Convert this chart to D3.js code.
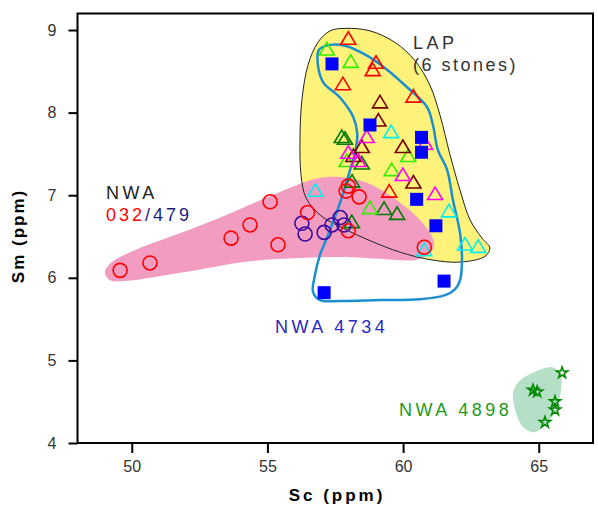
<!DOCTYPE html>
<html>
<head>
<meta charset="utf-8">
<script src="https://cdnjs.cloudflare.com/ajax/libs/d3/7.8.5/d3.min.js"></script>
<style>
  body { margin: 0; background: #fff; }
  text { font-family: "Liberation Sans", Arial, sans-serif; }
</style>
</head>
<body>
<div id="chart"></div>
<script>
// axis ticks
const xTicks = [50, 55, 60, 65]
const yTicks = [4, 5, 6, 7, 8, 9]

// field outlines, [Sc, Sm]
const lapField = [[57.86,9.02],[58.78,8.99],[59.70,8.85],[60.44,8.63],[60.99,8.33],[61.36,7.97],[61.73,7.49],[62.10,7.06],[62.47,6.70],[62.91,6.48],[63.20,6.36],[63.02,6.26],[62.10,6.19],[60.99,6.22],[59.89,6.31],[58.78,6.45],[57.79,6.60],[56.94,6.76],[56.42,6.97],[56.24,7.24],[56.20,7.67],[56.27,8.15],[56.50,8.58],[56.86,8.85],[57.31,8.99]]
const nwa032Field = [[49.01,6.07],[49.27,6.19],[50.30,6.36],[51.78,6.54],[53.62,6.78],[55.46,7.04],[56.79,7.20],[57.68,7.22],[58.67,7.15],[59.89,6.91],[60.73,6.66],[61.14,6.43],[61.03,6.31],[60.51,6.22],[59.15,6.23],[58.04,6.25],[56.20,6.24],[54.36,6.20],[51.78,6.06],[49.75,5.96],[49.20,5.97]]
const nwa4734Field = [[56.90,8.76],[57.31,8.82],[57.86,8.81],[58.67,8.69],[59.41,8.52],[60.14,8.31],[60.88,8.07],[61.10,7.85],[61.28,7.55],[61.62,7.31],[61.84,6.94],[62.10,6.54],[62.17,6.22],[62.10,5.97],[61.91,5.86],[61.55,5.79],[60.62,5.74],[59.15,5.73],[57.68,5.72],[56.94,5.73],[56.68,5.83],[56.75,6.03],[56.94,6.28],[57.20,6.49],[57.68,6.91],[58.05,7.31],[58.23,7.51],[58.31,7.75],[58.16,7.95],[57.68,8.18],[57.05,8.37],[56.86,8.58]]
const nwa4898Field = [[65.46,4.92],[65.79,4.85],[65.83,4.67],[65.64,4.40],[65.27,4.23],[64.83,4.13],[64.43,4.19],[64.13,4.40],[64.06,4.62],[64.32,4.76],[64.91,4.87]]

// NWA 032 (red) and NWA 479 (purple) circles
const nwa032 = [[49.57,6.09],[50.67,6.18],[53.66,6.48],[54.36,6.64],[55.10,6.92],[55.39,6.40],[56.48,6.79],[57.98,7.11],[57.90,7.05],[58.38,6.98],[57.98,6.57],[60.78,6.37]]
const nwa479 = [[56.27,6.66],[56.39,6.53],[57.09,6.55],[57.38,6.64],[57.68,6.73],[57.82,6.64]]

// LAP stones, triangles
const lapRed = [[57.98,8.90],[59.00,8.61],[58.88,8.52],[57.78,8.35],[60.38,8.20],[59.49,7.05]]
const lapLime = [[57.19,8.77],[58.07,8.62],[60.19,7.48],[57.92,7.42],[59.58,7.31],[58.78,6.85]]
const lapMaroon = [[59.15,8.13],[59.09,7.91],[58.48,7.59],[59.99,7.59],[58.17,7.48],[60.38,7.16]]
const lapDkGreen = [[57.74,7.71],[57.86,7.69],[58.48,7.39],[58.12,7.17],[59.30,6.84],[59.78,6.78],[58.11,6.68]]
const lapMagenta = [[58.66,7.71],[60.81,7.63],[57.98,7.52],[58.35,7.42],[59.99,7.25],[61.18,7.02]]
const lapCyan = [[59.56,7.77],[56.77,7.06],[61.69,6.81],[62.28,6.41],[62.77,6.38],[60.78,6.34]]

// NWA 4734 squares, NWA 4898 stars
const nwa4734 = [[57.38,8.59],[58.78,7.85],[60.68,7.70],[60.68,7.52],[60.50,6.95],[61.21,6.63],[61.51,5.96],[57.09,5.82]]
const nwa4898 = [[65.86,4.85],[64.79,4.64],[64.94,4.62],[65.60,4.50],[65.60,4.40],[65.23,4.25]]

const W = 598, H = 508
const svg = d3.select("#chart").append("svg").attr("width", W).attr("height", H)

const x = d3.scaleLinear().domain([48, 67]).range([77.5, 593])
const y = d3.scaleLinear().domain([4, 9.2]).range([443, 13.5])

const area = d3.line().x(d => x(d[0])).y(d => y(d[1])).curve(d3.curveCatmullRomClosed.alpha(0.5))

// fields
svg.append("path").attr("d", area(lapField)).attr("fill", "#fff27a").attr("stroke", "none")
svg.append("path").attr("d", area(nwa032Field)).attr("fill", "#f19cc0").attr("stroke", "none")
svg.append("path").attr("d", area(lapField)).attr("fill", "none").attr("stroke", "#222").attr("stroke-width", 1)
svg.append("path").attr("d", area(nwa4898Field)).attr("fill", "#b5dfc6").attr("stroke", "none")
svg.append("path").attr("d", area(nwa4734Field)).attr("fill", "none").attr("stroke", "#1a90d0").attr("stroke-width", 2.5)

// markers
const tri = "M0,-6.5L7.5,6L-7.5,6Z"
function triangles(data, color) {
  svg.append("g").selectAll("path").data(data).join("path")
    .attr("d", tri)
    .attr("transform", d => `translate(${x(d[0])},${y(d[1])})`)
    .attr("fill", "none").attr("stroke", color).attr("stroke-width", 1.6)
}
triangles(lapCyan, "#00f0f0")
triangles(lapDkGreen, "#007a00")
triangles(lapLime, "#33ee00")
triangles(lapMaroon, "#7a0000")
triangles(lapMagenta, "#ff00ff")
triangles(lapRed, "#ff0000")

svg.append("g").selectAll("circle").data(nwa479).join("circle")
  .attr("cx", d => x(d[0])).attr("cy", d => y(d[1])).attr("r", 7)
  .attr("fill", "none").attr("stroke", "#3a0aa0").attr("stroke-width", 1.6)
svg.append("g").selectAll("circle").data(nwa032).join("circle")
  .attr("cx", d => x(d[0])).attr("cy", d => y(d[1])).attr("r", 7)
  .attr("fill", "none").attr("stroke", "#ff0000").attr("stroke-width", 1.6)

svg.append("g").selectAll("rect").data(nwa4734).join("rect")
  .attr("x", d => x(d[0]) - 6.5).attr("y", d => y(d[1]) - 6.5)
  .attr("width", 13).attr("height", 13).attr("fill", "#0000ff")

svg.append("g").selectAll("path").data(nwa4898).join("path")
  .attr("d", d3.symbol(d3.symbolStar, 38))
  .attr("transform", d => `translate(${x(d[0])},${y(d[1])})`)
  .attr("fill", "none").attr("stroke", "#008800").attr("stroke-width", 1.6)

// frame
svg.append("rect").attr("x", 77.5).attr("y", 13.5).attr("width", 515.5).attr("height", 429.5)
  .attr("fill", "none").attr("stroke", "#000").attr("stroke-width", 2)

const xAxis = svg.append("g").attr("transform", "translate(0,443)")
  .call(d3.axisBottom(x).tickValues(xTicks).tickSize(10).tickPadding(8).tickSizeOuter(0))
const yAxis = svg.append("g").attr("transform", "translate(77.5,0)")
  .call(d3.axisLeft(y).tickValues(yTicks).tickFormat(d3.format("d")).tickSize(9).tickPadding(12).tickSizeOuter(0))
for (const a of [xAxis, yAxis]) {
  a.select(".domain").remove()
  a.selectAll(".tick line").attr("stroke", "#000").attr("stroke-width", 2)
  a.selectAll(".tick text").attr("fill", "#333").style("font-size", "16px")
    .style("font-family", "'Liberation Sans', Arial, sans-serif")
}

// axis titles
svg.append("text").attr("x", 337).attr("y", 501).attr("text-anchor", "middle")
  .style("font-size", "17px").style("font-weight", "bold").style("letter-spacing", "3px")
  .text("Sc (ppm)")
svg.append("text").attr("transform", "translate(24,236) rotate(-90)").attr("text-anchor", "middle")
  .style("font-size", "17px").style("font-weight", "bold").style("letter-spacing", "2px")
  .text("Sm (ppm)")

// labels
function label(tx, ty, str, color) {
  return svg.append("text").attr("x", tx).attr("y", ty).attr("fill", color)
    .style("font-size", "18px").style("letter-spacing", "3.5px").text(str)
}
label(413, 49, "LAP", "#333")
label(413, 71, "(6 stones)", "#333").style("letter-spacing", "2.5px")
label(106, 199, "NWA", "#222")
const t = label(106, 221, "", "#ff0000").style("letter-spacing", "3px")
t.append("tspan").attr("fill", "#ff0000").text("032")
t.append("tspan").attr("fill", "#1a1a80").text("/479")
label(275, 333, "NWA 4734", "#2a2ac0")
label(399, 416, "NWA 4898", "#229922")
</script>
</body>
</html>
